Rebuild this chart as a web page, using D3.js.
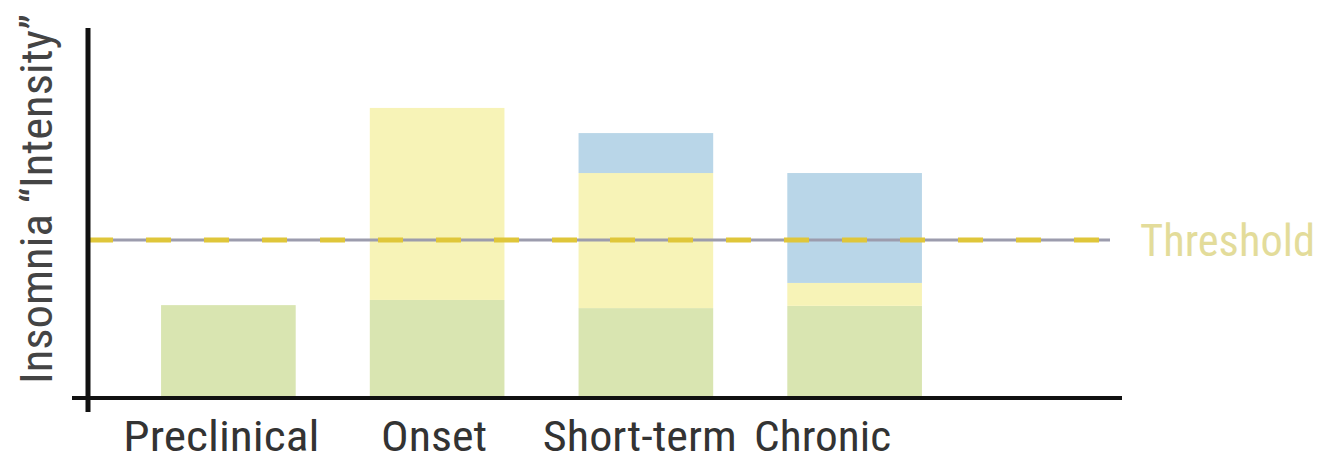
<!DOCTYPE html>
<html>
<head>
<meta charset="utf-8">
<script src="https://cdn.jsdelivr.net/npm/d3@7"></script>
<style>
  body { margin: 0; background: #fff; }
  svg { display: block; }
  text { font-family: "Roboto Condensed", "Liberation Sans Narrow", Roboto, "Liberation Sans", sans-serif; }
</style>
</head>
<body>
<div id="chart"></div>
<script>
// Chart data
const stages = ["Preclinical", "Onset", "Short-term", "Chronic"];
const series = ["base", "acute", "chronic"];
const baseValues = [25.1, 26.5, 24.3, 24.9];
const acuteValues = [0, 51.9, 36.5, 6.2];
const chronicValues = [0, 0, 10.8, 29.7];
const threshold = 42.7;
const yLabel = "Insomnia \u201cIntensity\u201d";
const thresholdLabel = "Threshold";

// Layout
const width = 1321, height = 462;
const axisX = 88, axisY = 398, axisTop = 28;
const colors = {base: "#d9e5b1", acute: "#f7f3b7", chronic: "#b9d6e8"};
// small horizontal nudges for the category labels (as drawn in the original)
const labelShift = [-7, -3, -6, -32];
const labelWidth = [196, 106, 194, 137];

const svg = d3.select("#chart").append("svg")
    .attr("width", width)
    .attr("height", height);

const x = d3.scaleBand()
    .domain(stages)
    .range([axisX, 995])
    .paddingInner(0.355)
    .paddingOuter(0.35);

const y = d3.scaleLinear()
    .domain([0, 100])
    .range([axisY, axisTop]);

// Build stacked table from the arrays
const table = stages.map(function(s, i){
    return {stage: s, base: baseValues[i], acute: acuteValues[i], chronic: chronicValues[i]};
});
const stacked = d3.stack().keys(series)(table);

const barsG = svg.append("g");
stacked.forEach(function(layer){
    barsG.selectAll(null)
        .data(layer.filter(function(d){ return d[1] > d[0]; }))
        .enter().append("rect")
        .attr("x", function(d){ return x(d.data.stage); })
        .attr("width", x.bandwidth())
        .attr("y", function(d){ return y(d[1]); })
        .attr("height", function(d){ return y(d[0]) - y(d[1]); })
        .attr("fill", colors[layer.key]);
});

// Threshold line: grey line with yellow dashes on top
const tY = y(threshold);
svg.append("line")
    .attr("x1", axisX).attr("x2", 1110)
    .attr("y1", tY).attr("y2", tY)
    .attr("stroke", "#9c9cad")
    .attr("stroke-width", 3);
svg.append("line")
    .attr("x1", axisX).attr("x2", 1110)
    .attr("y1", tY).attr("y2", tY)
    .attr("stroke", "#dfc63a")
    .attr("stroke-width", 5)
    .attr("stroke-dasharray", "25,33");

svg.append("text")
    .attr("x", 1140)
    .attr("y", tY)
    .attr("dy", "0.36em")
    .attr("font-size", 44)
    .attr("fill", "#e3dc9a")
    .attr("textLength", 175)
    .attr("lengthAdjust", "spacingAndGlyphs")
    .text(thresholdLabel);

// Axes (drawn as plain lines, no ticks)
svg.append("line")
    .attr("x1", axisX).attr("x2", axisX)
    .attr("y1", axisTop).attr("y2", 412)
    .attr("stroke", "#111")
    .attr("stroke-width", 5);
svg.append("line")
    .attr("x1", 72).attr("x2", 1122)
    .attr("y1", axisY).attr("y2", axisY)
    .attr("stroke", "#111")
    .attr("stroke-width", 4);

// Category labels
svg.append("g").selectAll("text")
    .data(stages)
    .enter().append("text")
    .attr("x", function(d, i){ return x(d) + x.bandwidth()/2 + labelShift[i] - labelWidth[i]/2; })
    .attr("y", 451)
    .attr("font-size", 43)
    .attr("fill", "#333")
    .attr("textLength", function(d, i){ return labelWidth[i]; })
    .attr("lengthAdjust", "spacingAndGlyphs")
    .text(function(d){ return d; });

// Y axis title
svg.append("text")
    .attr("transform", "translate(52," + 199 + ") rotate(-90)")
    .attr("text-anchor", "middle")
    .attr("font-size", 44)
    .attr("fill", "#444")
    .attr("textLength", 370)
    .attr("lengthAdjust", "spacingAndGlyphs")
    .text(yLabel);
</script>
</body>
</html>
